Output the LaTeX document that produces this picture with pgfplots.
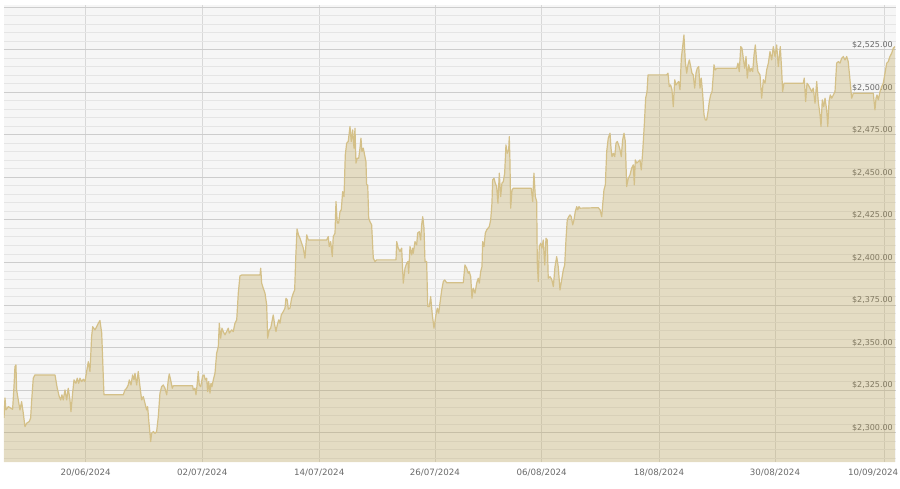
\documentclass[border=0pt]{standalone}
\usepackage{fontspec}
\setmainfont{DejaVu Sans}
\usepackage{pgfplots}
\usepackage{pgfplotstable}
\pgfplotsset{compat=1.18}
\definecolor{bgc}{RGB}{246,246,246}
\definecolor{gridmin}{RGB}{229,229,229}
\definecolor{gridmaj}{RGB}{205,205,205}
\definecolor{vgrid}{RGB}{216,216,216}
\definecolor{fillc}{RGB}{187,160,80}
\definecolor{linec}{RGB}{212,192,136}
\definecolor{txt}{RGB}{105,105,105}

\pgfplotstableread{
d v
-8.27 2308.5
-8.17 2320.3
-8.07 2313.2
-7.83 2315.2
-7.39 2313.6
-7.25 2326.9
-7.15 2338.7
-7.05 2339.7
-6.98 2325.0
-6.81 2319.1
-6.64 2313.2
-6.47 2318.1
-6.30 2311.3
-6.13 2303.4
-5.96 2305.4
-5.69 2306.4
-5.55 2308.4
-5.44 2319.1
-5.28 2331.9
-5.11 2333.8
-3.06 2333.8
-2.83 2326.0
-2.63 2321.1
-2.48 2319.1
-2.35 2322.1
-2.22 2319.1
-2.04 2325.0
-1.87 2319.1
-1.71 2326.0
-1.53 2319.1
-1.43 2312.2
-1.26 2323.1
-1.12 2330.9
-0.92 2328.9
-0.79 2331.9
-0.64 2328.9
-0.51 2331.9
-0.34 2329.9
-0.17 2331.3
0.00 2329.9
0.17 2335.8
0.34 2341.6
0.51 2335.8
0.68 2356.4
0.79 2362.2
1.02 2360.3
1.20 2362.2
1.36 2364.2
1.53 2365.8
1.71 2358.4
1.81 2342.6
1.94 2322.1
3.91 2322.1
4.09 2325.0
4.26 2326.0
4.42 2327.9
4.53 2330.9
4.70 2327.9
4.87 2333.8
5.01 2330.9
5.11 2334.8
5.28 2327.9
5.44 2335.8
5.62 2326.9
5.79 2319.1
5.96 2321.1
6.13 2317.2
6.30 2313.2
6.40 2315.2
6.54 2305.4
6.64 2299.5
6.71 2294.6
6.81 2299.5
6.98 2300.5
7.15 2299.5
7.32 2300.5
7.49 2309.3
7.66 2323.1
7.83 2326.9
8.00 2327.9
8.17 2326.0
8.35 2322.1
8.51 2330.9
8.61 2334.4
8.75 2330.9
8.92 2326.0
9.02 2327.4
11.00 2327.4
11.06 2325.0
11.24 2326.0
11.34 2322.1
11.47 2328.9
11.57 2335.8
11.68 2327.9
11.82 2326.9
12.02 2333.2
12.16 2333.8
12.29 2330.9
12.43 2331.9
12.53 2324.0
12.64 2329.9
12.77 2323.1
12.87 2328.9
12.97 2326.9
13.11 2330.9
13.28 2334.8
13.45 2346.6
13.62 2350.5
13.72 2364.2
13.86 2355.4
13.99 2361.3
14.13 2359.3
14.30 2357.4
14.47 2359.3
14.64 2361.3
14.74 2358.4
14.98 2360.3
15.15 2359.3
15.32 2364.2
15.50 2366.2
15.66 2381.9
15.83 2392.1
16.01 2392.6
17.88 2392.6
17.95 2396.6
18.05 2387.8
18.21 2384.8
18.39 2381.9
18.56 2375.0
18.66 2355.4
18.82 2360.3
18.97 2361.3
19.10 2365.2
19.23 2369.1
19.38 2363.2
19.51 2359.3
19.64 2363.2
19.79 2366.2
19.92 2364.2
20.05 2369.1
20.26 2371.1
20.43 2373.1
20.53 2378.9
20.66 2377.9
20.77 2372.5
20.94 2373.1
21.11 2378.9
21.28 2381.9
21.42 2383.8
21.52 2401.5
21.66 2419.7
21.81 2416.2
21.96 2414.2
22.13 2411.3
22.30 2408.4
22.47 2402.5
22.65 2416.2
22.81 2413.2
24.69 2413.2
24.85 2415.2
24.95 2409.3
25.10 2412.2
25.26 2403.4
25.36 2415.2
25.54 2417.2
25.64 2435.8
25.77 2423.1
25.91 2423.1
26.05 2429.9
26.18 2430.9
26.32 2441.6
26.46 2438.7
26.59 2463.2
26.73 2470.1
26.89 2471.1
27.07 2479.9
27.20 2471.1
27.34 2477.9
27.48 2467.2
27.58 2478.9
27.68 2458.4
27.81 2461.3
27.96 2461.3
28.09 2467.2
28.19 2473.1
28.29 2465.2
28.43 2467.2
28.53 2464.2
28.70 2459.3
28.77 2445.6
28.88 2445.6
28.98 2426.0
29.11 2424.0
29.28 2422.1
29.45 2402.5
29.62 2400.5
29.80 2401.5
31.77 2401.5
31.84 2412.2
32.00 2408.4
32.18 2406.4
32.35 2408.4
32.51 2387.8
32.69 2396.6
32.86 2399.5
32.99 2400.5
33.06 2393.6
33.20 2409.3
33.37 2404.4
33.47 2408.4
33.53 2405.4
33.71 2412.2
33.88 2410.3
33.98 2417.2
34.15 2418.1
34.29 2413.2
34.39 2422.1
34.50 2426.9
34.63 2420.1
34.73 2400.5
34.90 2400.5
35.01 2374.0
35.17 2374.0
35.31 2379.9
35.48 2369.1
35.65 2361.3
35.85 2369.1
35.99 2373.1
36.13 2370.1
36.26 2376.0
36.44 2383.8
36.60 2388.7
36.74 2389.7
36.95 2388.0
38.64 2388.0
38.81 2398.5
38.99 2396.6
39.15 2393.6
39.25 2394.6
39.40 2391.6
39.53 2378.9
39.66 2384.8
39.84 2381.9
40.01 2387.8
40.17 2390.7
40.28 2387.8
40.42 2394.6
40.55 2397.5
40.62 2412.2
40.76 2409.3
40.89 2417.2
41.03 2419.1
41.30 2421.1
41.44 2425.0
41.57 2434.8
41.64 2448.5
41.78 2449.5
41.91 2446.6
42.05 2444.6
42.18 2434.8
42.32 2452.5
42.46 2438.7
42.59 2446.6
42.73 2447.5
42.87 2452.5
43.00 2469.1
43.14 2464.2
43.28 2466.2
43.34 2474.0
43.41 2459.3
43.48 2431.9
43.62 2442.6
43.75 2443.6
45.59 2443.6
45.73 2435.8
45.86 2452.5
46.00 2438.7
46.14 2435.8
46.20 2399.5
46.30 2388.7
46.40 2409.3
46.55 2411.3
46.68 2408.4
46.81 2413.2
46.96 2398.5
47.09 2414.2
47.22 2413.2
47.32 2390.7
47.50 2391.6
47.67 2390.1
47.84 2385.8
48.01 2397.5
48.18 2403.4
48.34 2397.5
48.52 2383.8
48.69 2389.7
48.86 2395.6
49.00 2398.5
49.13 2413.2
49.26 2425.0
49.41 2426.9
49.54 2427.9
49.67 2426.9
49.82 2422.1
49.95 2425.0
50.08 2429.9
50.23 2432.8
50.33 2430.9
50.46 2432.8
50.56 2431.9
52.43 2432.2
52.61 2430.9
52.78 2426.9
52.88 2433.8
53.01 2442.6
53.15 2445.6
53.29 2465.2
53.45 2473.1
53.63 2476.0
53.73 2467.2
53.83 2462.2
53.96 2464.2
54.11 2462.2
54.24 2470.1
54.37 2471.1
54.51 2469.1
54.65 2466.2
54.78 2462.2
54.92 2472.1
55.06 2476.0
55.19 2471.1
55.33 2444.6
55.50 2449.5
55.67 2451.5
55.84 2455.4
56.01 2457.4
56.11 2445.6
56.21 2460.3
56.35 2458.4
56.52 2459.3
56.69 2460.3
56.82 2454.4
56.97 2465.2
57.13 2480.9
57.27 2496.6
57.41 2500.5
57.51 2510.3
59.42 2510.3
59.55 2511.3
59.68 2503.4
59.82 2504.4
59.96 2501.5
60.09 2491.6
60.24 2507.4
60.37 2504.4
60.50 2505.4
60.64 2506.4
60.78 2501.5
60.91 2520.1
61.05 2526.9
61.18 2533.8
61.32 2518.1
61.46 2511.3
61.59 2516.2
61.73 2519.1
61.87 2515.2
62.00 2511.3
62.13 2510.3
62.28 2502.5
62.41 2511.3
62.54 2514.2
62.69 2515.2
62.82 2502.5
62.95 2508.4
63.10 2498.5
63.23 2486.8
63.36 2483.8
63.50 2483.8
63.64 2488.7
63.77 2494.6
63.91 2498.5
64.05 2500.5
64.18 2510.3
64.25 2516.2
64.38 2513.2
64.53 2514.2
66.57 2514.2
66.70 2517.2
66.83 2512.2
66.98 2526.9
67.11 2526.0
67.24 2520.1
67.39 2514.2
67.52 2521.1
67.65 2508.4
67.80 2516.2
67.93 2512.2
68.06 2514.2
68.20 2512.2
68.34 2522.1
68.47 2527.9
68.61 2518.1
68.74 2512.2
68.95 2510.3
69.12 2496.6
69.29 2507.4
69.46 2505.4
69.63 2513.2
69.80 2517.2
69.97 2524.0
70.14 2519.1
70.31 2526.9
70.48 2521.1
70.65 2527.9
70.82 2515.2
70.92 2521.1
71.02 2526.9
71.16 2513.2
71.26 2500.5
71.40 2505.4
73.37 2505.4
73.47 2508.4
73.61 2494.6
73.75 2505.4
73.88 2504.4
74.05 2502.5
74.23 2500.5
74.39 2502.5
74.57 2493.6
74.74 2506.4
74.90 2494.6
75.08 2486.8
75.18 2479.9
75.31 2495.6
75.46 2491.6
75.59 2496.6
75.76 2489.7
75.87 2479.9
76.00 2494.6
76.13 2498.5
76.27 2496.6
76.44 2498.5
76.61 2500.5
76.78 2517.2
76.95 2518.1
77.12 2517.2
77.29 2520.1
77.46 2521.1
77.63 2519.1
77.80 2521.1
77.96 2518.1
78.14 2507.4
78.31 2496.6
78.48 2499.5
80.52 2499.5
80.69 2489.7
80.80 2496.6
80.90 2498.5
81.03 2495.6
81.21 2500.5
81.38 2503.4
81.54 2505.4
81.89 2517.2
82.05 2518.1
82.22 2521.1
82.40 2523.1
82.56 2526.0
82.73 2526.9
}\gold

\begin{document}
\begin{tikzpicture}[x=1pt,y=1pt]
\useasboundingbox (0,0) rectangle (900,488);
\begin{axis}[
  at={(4pt,26pt)}, anchor=south west,
  scale only axis, width=892pt, height=457pt,
  xmin=-8.27, xmax=82.84, ymin=2282.6, ymax=2551.4,
  axis background/.style={fill=bgc},
  axis line style={draw=none},
  major tick length=0pt, minor tick length=0pt,
  tick style={draw=none},
  xtick={0.07,11.98,23.93,35.75,46.65,58.63,70.48,81.64},
  xticklabels={20/06/2024,02/07/2024,14/07/2024,26/07/2024,06/08/2024,18/08/2024,30/08/2024,{\makebox[0pt][r]{10/09/2024\hspace{-14pt}}}},
  ytick={2300,2325,2350,2375,2400,2425,2450,2475,2500,2525,2550},
  yticklabels={{\$2,300.00},{\$2,325.00},{\$2,350.00},{\$2,375.00},{\$2,400.00},{\$2,425.00},{\$2,450.00},{\$2,475.00},{\$2,500.00},{\$2,525.00},{}},
  minor ytick={2285,2290,2295,2305,2310,2315,2320,2330,2335,2340,2345,2355,2360,2365,2370,2380,2385,2390,2395,2405,2410,2415,2420,2430,2435,2440,2445,2455,2460,2465,2470,2480,2485,2490,2495,2505,2510,2515,2520,2530,2535,2540,2545},
  xmajorgrids, ymajorgrids, yminorgrids,
  x grid style={draw=vgrid, line width=0.8pt},
  y grid style={draw=gridmaj, line width=0.8pt},
  minor y grid style={draw=gridmin, line width=0.8pt},
  yticklabel pos=right,
  yticklabel style={anchor=base east, inner sep=0pt, xshift=-3pt, yshift=2pt, font=\fontsize{8}{9}\selectfont, text=txt},
  xticklabel style={anchor=north, inner sep=0pt, yshift=-7pt, font=\fontsize{8.7}{10}\selectfont, text=txt},
  clip=true,
]
\addplot[draw=none, fill=fillc, fill opacity=0.3] table[x=d, y=v] {\gold} \closedcycle;
\addplot[linec, line width=1.2pt, line join=round] table[x=d, y=v] {\gold};
\end{axis}
\end{tikzpicture}
\end{document}
